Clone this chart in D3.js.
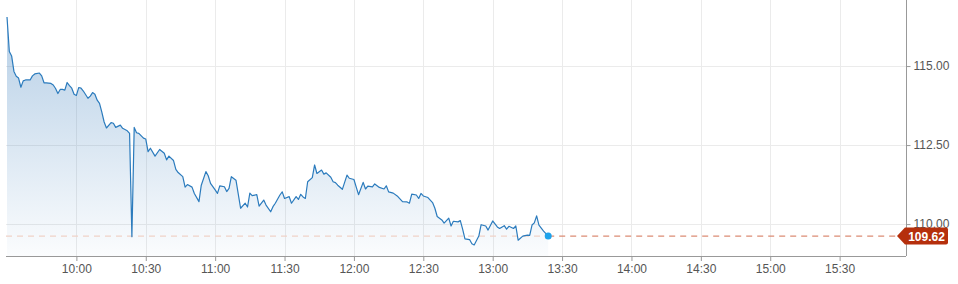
<!DOCTYPE html>
<html>
<head>
<meta charset="utf-8">
<script src="https://cdn.jsdelivr.net/npm/d3@7"></script>
<style>
  html, body { margin: 0; padding: 0; background: #fff; }
  svg { display: block; font-family: "Liberation Sans", Arial, sans-serif; }
  .tick text { fill: #555; font-size: 12px; }
</style>
</head>
<body>
<svg id="chart" width="958" height="284"></svg>
<script>
// intraday prices
const times = [
  '09:30','09:31','09:32','09:33','09:34','09:35','09:36','09:37','09:38','09:40',
  '09:41','09:42','09:44','09:45','09:46','09:47','09:49','09:50','09:51','09:52',
  '09:53','09:54','09:55','09:56','09:57','09:58','09:59','10:00','10:01','10:02',
  '10:03','10:05','10:06','10:07','10:08','10:09','10:10','10:11','10:12','10:13',
  '10:15','10:16','10:17','10:19','10:20','10:22','10:23','10:24','10:25','10:26',
  '10:27','10:29','10:30','10:31','10:32','10:34','10:36','10:38','10:39','10:40',
  '10:42','10:43','10:44','10:46','10:47','10:48','10:50','10:51','10:53','10:54',
  '10:56','10:57','10:58','11:00','11:01','11:02','11:04','11:05','11:06','11:07',
  '11:09','11:11','11:13','11:14','11:15','11:16','11:18','11:19','11:21','11:22',
  '11:24','11:25','11:26','11:28','11:29','11:30','11:32','11:33','11:35','11:36',
  '11:37','11:38','11:39','11:40','11:42','11:43','11:44','11:46','11:47','11:48',
  '11:50','11:51','11:52','11:53','11:55','11:57','11:58','12:00','12:01','12:02',
  '12:04','12:05','12:06','12:08','12:09','12:11','12:13','12:14','12:15','12:17',
  '12:19','12:21','12:23','12:24','12:25','12:27','12:28','12:29','12:30','12:32',
  '12:34','12:35','12:36','12:38','12:39','12:41','12:42','12:43','12:45','12:46',
  '12:47','12:48','12:50','12:51','12:52','12:54','12:55','12:57','12:58','13:00',
  '13:02','13:03','13:05','13:06','13:07','13:09','13:10','13:11','13:13','13:15',
  '13:16','13:17','13:18','13:19','13:20','13:22','13:23','13:24'
];
const prices = [
  116.55,115.46,115.32,114.83,114.68,114.62,114.33,114.53,114.56,114.56,
  114.69,114.75,114.78,114.69,114.47,114.47,114.45,114.40,114.29,114.13,
  114.26,114.26,114.24,114.48,114.38,114.30,114.11,114.07,114.32,114.30,
  114.21,113.98,114.05,114.16,114.11,113.92,113.82,113.54,113.23,113.04,
  113.21,113.19,113.06,113.13,113.03,112.95,112.87,109.60,113.06,112.89,
  112.87,112.72,112.69,112.29,112.40,112.15,112.36,112.24,112.03,112.15,
  112.01,111.73,111.63,111.50,111.17,111.25,111.17,110.97,110.71,111.23,
  111.66,111.53,111.29,111.08,110.97,111.21,111.18,111.03,111.13,111.50,
  111.39,110.50,110.66,110.54,110.98,110.90,110.93,110.57,110.76,110.60,
  110.39,110.55,110.66,110.92,111.02,110.81,110.87,110.66,110.87,110.78,
  110.94,110.86,110.81,111.34,111.47,111.87,111.60,111.71,111.58,111.62,
  111.48,111.34,111.31,111.23,111.10,111.55,111.45,111.41,111.17,110.93,
  111.32,111.11,111.20,111.18,111.27,111.16,111.11,111.21,111.02,110.98,
  110.87,110.71,110.70,110.66,110.95,110.92,110.81,110.97,110.89,110.84,
  110.68,110.50,110.24,110.13,110.03,110.19,109.94,110.09,110.07,110.11,
  109.84,109.53,109.51,109.38,109.34,109.62,109.98,109.94,109.81,110.10,
  109.91,109.86,109.95,109.84,109.93,109.86,109.94,109.49,109.62,109.65,
  109.64,109.97,110.04,110.26,109.97,109.78,109.70,109.62
];
const lastPrice = 109.62;
const xTickLabels = ['10:00','10:30','11:00','11:30','12:00','12:30','13:00','13:30','14:00','14:30','15:00','15:30'];
const yTickValues = [110, 112.5, 115];

const parseTime = d3.timeParse('%H:%M');
const data = times.map((t, i) => ({ date: parseTime(t), value: prices[i] }));

const svg = d3.select('#chart');
const plotLeft = 7, plotRight = 906, plotTop = 0, plotBottom = 256;

// session 09:30 - 16:00, the plot is cut a little before the close
const x = d3.scaleTime()
  .domain([parseTime('09:30'), parseTime('16:00')])
  .range([plotLeft, 909]);

const y = d3.scaleLinear()
  .domain([108.99, 117.09])
  .range([plotBottom, plotTop]);

const xTicks = xTickLabels.map(parseTime);

// gradient under the line
const defs = svg.append('defs');
const grad = defs.append('linearGradient')
  .attr('id', 'areaFill')
  .attr('gradientUnits', 'userSpaceOnUse')
  .attr('x1', 0).attr('y1', 0).attr('x2', 0).attr('y2', plotBottom);
grad.append('stop').attr('offset', '0%').attr('stop-color', '#2f76b8').attr('stop-opacity', 0.38);
grad.append('stop').attr('offset', '100%').attr('stop-color', '#2f76b8').attr('stop-opacity', 0.02);

// grid
const grid = svg.append('g');
grid.selectAll('line.v')
  .data(xTicks)
  .enter().append('line')
  .attr('x1', d => Math.round(x(d)) + 0.5)
  .attr('x2', d => Math.round(x(d)) + 0.5)
  .attr('y1', plotTop).attr('y2', plotBottom)
  .attr('stroke', '#ebebeb');
grid.selectAll('line.h')
  .data(yTickValues)
  .enter().append('line')
  .attr('x1', plotLeft - 1).attr('x2', plotRight)
  .attr('y1', d => Math.round(y(d)) + 0.5)
  .attr('y2', d => Math.round(y(d)) + 0.5)
  .attr('stroke', '#ebebeb');

// area + line
svg.append('path')
  .datum(data)
  .attr('fill', 'url(#areaFill)')
  .attr('d', d3.area().x(d => x(d.date)).y0(plotBottom).y1(d => y(d.value)));

// last price reference line: faint under the data, stronger after it
const lastX = x(data[data.length - 1].date);
svg.append('line')
  .attr('x1', plotLeft - 1).attr('x2', lastX)
  .attr('y1', y(lastPrice)).attr('y2', y(lastPrice))
  .attr('stroke', '#f0d2c8').attr('stroke-width', 1.2)
  .attr('stroke-dasharray', '6,5');
svg.append('line')
  .attr('x1', lastX).attr('x2', plotRight - 6)
  .attr('y1', y(lastPrice)).attr('y2', y(lastPrice))
  .attr('stroke', '#dc8c74').attr('stroke-width', 1.2)
  .attr('stroke-dasharray', '6,5');

svg.append('path')
  .datum(data)
  .attr('fill', 'none')
  .attr('stroke', '#2b7bbd')
  .attr('stroke-width', 1.2)
  .attr('stroke-linejoin', 'round')
  .attr('d', d3.line().x(d => x(d.date)).y(d => y(d.value)));

svg.append('circle')
  .attr('cx', lastX)
  .attr('cy', y(lastPrice))
  .attr('r', 3.5)
  .attr('fill', '#1ea3ec');

// axes
const xAxis = svg.append('g')
  .attr('transform', `translate(0,${plotBottom})`)
  .call(d3.axisBottom(x).tickValues(xTicks).tickFormat(d3.timeFormat('%H:%M')).tickSize(5).tickPadding(3).tickSizeOuter(0));
xAxis.select('.domain').attr('d', `M${plotLeft - 1},0.5H${plotRight}`).attr('stroke', '#999');
xAxis.selectAll('.tick line').attr('stroke', '#999');

const yAxis = svg.append('g')
  .attr('transform', `translate(${plotRight + 0.5},0)`)
  .call(d3.axisRight(y).tickValues(yTickValues).tickFormat(d3.format('.2f')).tickSize(4).tickPadding(3).tickSizeOuter(0));
yAxis.select('.domain').attr('d', `M0,${plotTop}V${plotBottom}`).attr('stroke', '#999');
yAxis.selectAll('.tick line').attr('stroke', '#999');

// last price badge
const ly = y(lastPrice);
svg.append('path')
  .attr('d', `M897,${ly} L905,${ly - 8.5} H946 Q948,${ly - 8.5} 948,${ly - 6.5} V${ly + 6.5} Q948,${ly + 8.5} 946,${ly + 8.5} H905 Z`)
  .attr('fill', '#b52f0c');
svg.append('text')
  .attr('x', 926.5)
  .attr('y', ly + 4.5)
  .attr('text-anchor', 'middle')
  .attr('fill', '#fff')
  .attr('font-size', 12)
  .attr('font-weight', 'bold')
  .text(lastPrice.toFixed(2));
</script>
</body>
</html>
